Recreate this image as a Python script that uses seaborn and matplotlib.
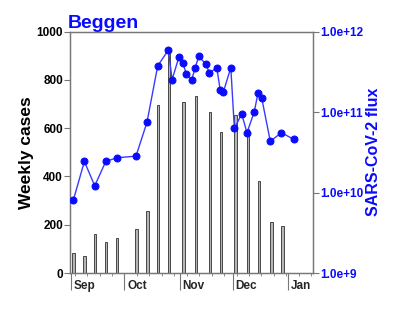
import matplotlib
matplotlib.use("Agg")
import matplotlib.pyplot as plt
import matplotlib.ticker as mticker
import seaborn as sns
import numpy as np
import pandas as pd

# Days since 1 Sep 2020
case_days = [1.3, 7.5, 13.4, 19.6, 25.8, 36.7, 42.9, 49.0, 55.0, 63.1, 70.3,
             78.2, 84.4, 92.5, 99.4, 105.6, 112.6, 118.8]
weekly_cases = [83, 70, 160, 130, 146, 182, 257, 697, 925, 708, 734,
                666, 582, 654, 595, 383, 211, 196]

flux_days = [1.3, 7.5, 13.3, 19.5, 25.7, 36.5, 42.7, 48.7, 54.7, 56.8, 60.7,
             62.8, 64.8, 67.8, 69.7, 71.8, 75.7, 77.8, 81.9, 83.8, 85.6, 89.8,
             91.8, 95.9, 98.9, 103.0, 105.1, 107.2, 112.0, 118.2, 125.3]
flux = [8.1e9, 2.43e10, 1.21e10, 2.43e10, 2.7e10, 2.83e10, 7.5e10, 3.74e11,
        5.9e11, 2.52e11, 4.89e11, 4.08e11, 2.97e11, 2.52e11, 3.5e11, 4.93e11,
        3.92e11, 3.05e11, 3.56e11, 1.90e11, 1.77e11, 3.56e11, 6.26e10, 9.45e10,
        5.53e10, 1.01e11, 1.73e11, 1.48e11, 4.32e10, 5.53e10, 4.57e10]

month_labels = ["Sep", "Oct", "Nov", "Dec", "Jan"]
month_days = [0, 30, 61, 91, 122]

title = "Beggen"
left_label = "Weekly cases"
right_label = "SARS-CoV-2 flux"

sns.set_style("white")
plt.rcParams["font.family"] = ["Liberation Sans", "DejaVu Sans"]
plt.rcParams["font.weight"] = "bold"

BLUE = "#0a0aff"
GREY = "#777777"

fig = plt.figure(figsize=(4.0, 3.17), dpi=100)
ax = fig.add_axes([0.175, 0.1388, 0.6075, 0.7618])

ax.bar(case_days, weekly_cases, width=1.4, color="#b5b5b5",
       edgecolor="#303030", linewidth=0.6, zorder=2)
ax.set_xlim(-0.6, 136)
ax.set_ylim(0, 1000)
ax.set_yticks([0, 200, 400, 600, 800, 1000])
ax.set_ylabel(left_label, fontsize=12.5, fontweight="bold", color="black", labelpad=2)
ax.tick_params(axis="y", labelsize=8.5, colors="black", length=4, width=0.8,
               color=GREY, pad=1, direction="out", left=True)

ax.set_xticks(month_days)
ax.set_xticklabels(month_labels, ha="left")
ax.xaxis.set_minor_locator(mticker.FixedLocator(np.arange(2, 136, 7)))
ax.tick_params(axis="x", which="major", labelsize=8.5, length=12, width=0.8,
               color=GREY, pad=-9, direction="out", bottom=True)
ax.tick_params(axis="x", which="minor", length=2, width=0.6, color=GREY,
               direction="out", bottom=True)
for lab in ax.get_xticklabels():
    lab.set_transform(lab.get_transform() + matplotlib.transforms.ScaledTranslation(2/72, -2/72, fig.dpi_scale_trans))

for s in ax.spines.values():
    s.set_color(GREY)
    s.set_linewidth(0.9)

ax2 = ax.twinx()
df = pd.DataFrame({"day": flux_days, "flux": flux})
sns.lineplot(data=df, x="day", y="flux", ax=ax2, color="#3a3aff", linewidth=1.0,
             marker="o", markersize=5.0, markerfacecolor=BLUE,
             markeredgecolor=BLUE, zorder=3)
ax2.set_yscale("log")
ax2.set_ylim(1e9, 1e12)
ax2.set_yticks([1e9, 1e10, 1e11, 1e12])
ax2.yaxis.set_major_formatter(mticker.FuncFormatter(
    lambda v, p: "%.1fe+%d" % (1.0, int(round(np.log10(v))))))
ax2.yaxis.set_minor_locator(mticker.NullLocator())
ax2.tick_params(axis="y", labelsize=8.5, labelcolor=BLUE, length=4, width=0.8,
                color=GREY, pad=1, direction="out", right=True)
ax2.set_ylabel(right_label, fontsize=11.5, fontweight="bold", color=BLUE, labelpad=2)
ax2.set_xlabel("")
ax2.set_xlim(-0.6, 136)
for s in ax2.spines.values():
    s.set_color(GREY)
    s.set_linewidth(0.9)

ax.set_title(title, loc="left", fontsize=14, fontweight="bold", color=BLUE,
             pad=1, x=-0.01)
ax.set_xlabel("")

fig.savefig("out.png", dpi=100)
